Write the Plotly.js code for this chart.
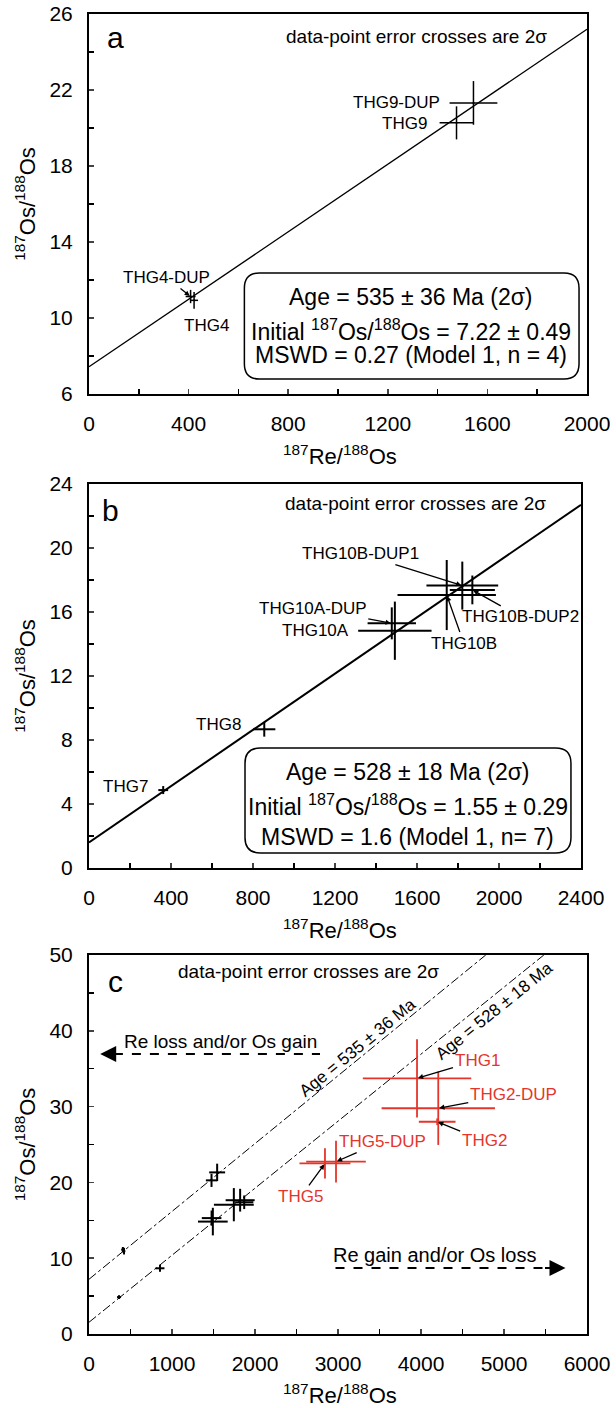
<!DOCTYPE html>
<html>
<head>
<meta charset="utf-8">
<script src="https://cdn.plot.ly/plotly-3.0.1.min.js"></script>
<style>html,body{margin:0;padding:0;background:#fff;}#chart{width:616px;height:1408px;}</style>
</head>
<body>
<div id="chart"></div>
<script>
// ---------- Panel a data ----------
const aLabels = ['THG4', 'THG4-DUP', 'THG9', 'THG9-DUP'];
const aRe = [422, 408, 1476, 1544];
const aReErr = [16, 20, 68, 96];
const aOs = [10.93, 11.13, 20.27, 21.32];
const aOsErr = [0.44, 0.35, 0.87, 1.15];
const aLineRe = [0, 2000];
const aLineOs = [7.43, 25.2];

// ---------- Panel b data ----------
const bLabels = ['THG7', 'THG8', 'THG10A', 'THG10A-DUP', 'THG10B', 'THG10B-DUP1', 'THG10B-DUP2'];
const bRe = [362, 855, 1492, 1477, 1745, 1821, 1870];
const bReErr = [24, 54, 179, 118, 240, 175, 110];
const bOs = [4.87, 8.67, 14.83, 15.29, 17.06, 17.65, 17.38];
const bOsErr = [0.25, 0.46, 1.82, 1.0, 2.19, 1.5, 0.9];
const bLineRe = [0, 2400];
const bLineOs = [1.6, 22.7];

// ---------- Panel c data (red: disturbed samples) ----------
const cLabels = ['THG1', 'THG2', 'THG2-DUP', 'THG5', 'THG5-DUP'];
const cRe = [3952, 4195, 4208, 2843, 2976];
const cReErr = [653, 221, 683, 307, 359];
const cOs = [33.73, 28.0, 29.78, 22.5, 22.73];
const cOsErr = [5.16, 0.44, 4.84, 2.0, 2.75];
const cLine535Re = [0, 4780];
const cLine535Os = [7.22, 50];
const cLine528Re = [0, 5480];
const cLine528Os = [1.55, 50];

// ---------- Text ----------
const xTitle = '<sup>187</sup>Re/<sup>188</sup>Os';
const yTitle = '<sup>187</sup>Os/<sup>188</sup>Os';
const errNote = 'data-point error crosses are 2σ';
const aBoxText = ['Age = 535 ± 36 Ma (2σ)', 'Initial <sup>187</sup>Os/<sup>188</sup>Os = 7.22 ± 0.49', 'MSWD = 0.27 (Model 1, n = 4)'];
const bBoxText = ['Age = 528 ± 18 Ma (2σ)', 'Initial <sup>187</sup>Os/<sup>188</sup>Os = 1.55 ± 0.29', 'MSWD = 1.6 (Model 1, n= 7)'];

const FONT = 'Arial, "Liberation Sans", sans-serif';
const RED = '#e5352b';

function roundedBox(x0, x1, y0, y1, rx, ry) {
  return `M${x0 + rx},${y0} L${x1 - rx},${y0} Q${x1},${y0} ${x1},${y0 + ry} L${x1},${y1 - ry} Q${x1},${y1} ${x1 - rx},${y1} L${x0 + rx},${y1} Q${x0},${y1} ${x0},${y1 - ry} L${x0},${y0 + ry} Q${x0},${y0} ${x0 + rx},${y0} Z`;
}

function crosses(x, y, ex, ey, xa, ya, color, w) {
  return {
    type: 'scatter', mode: 'markers', x: x, y: y, xaxis: xa, yaxis: ya,
    marker: {size: 2, color: color},
    error_x: {type: 'data', array: ex, visible: true, width: 0, thickness: w, color: color},
    error_y: {type: 'data', array: ey, visible: true, width: 0, thickness: w, color: color},
    showlegend: false, hoverinfo: 'x+y'
  };
}
function line(x, y, xa, ya, w, dash) {
  return {type: 'scatter', mode: 'lines', x: x, y: y, xaxis: xa, yaxis: ya,
    line: {color: 'black', width: w, dash: dash || 'solid'}, showlegend: false, hoverinfo: 'skip'};
}

const traces = [
  line(aLineRe, aLineOs, 'x', 'y', 1.3),
  crosses(aRe, aOs, aReErr, aOsErr, 'x', 'y', 'black', 1.5),
  line(bLineRe, bLineOs, 'x2', 'y2', 2),
  crosses(bRe, bOs, bReErr, bOsErr, 'x2', 'y2', 'black', 2),
  line(cLine535Re, cLine535Os, 'x3', 'y3', 1, 'dashdot'),
  line(cLine528Re, cLine528Os, 'x3', 'y3', 1, 'dashdot'),
  crosses(aRe, aOs, aReErr, aOsErr, 'x3', 'y3', 'black', 2),
  crosses(bRe, bOs, bReErr, bOsErr, 'x3', 'y3', 'black', 2),
  crosses(cRe, cOs, cReErr, cOsErr, 'x3', 'y3', RED, 1.8)
];

function xax(domain, range, dtick, minor) {
  return {domain: domain, range: range, dtick: dtick, tick0: 0, ticks: 'inside', ticklen: 5, tickwidth: 1.5,
    minor: {dtick: minor, ticks: 'inside', ticklen: 5, tickwidth: 1.5, tickcolor: 'black', showgrid: false},
    showline: true, mirror: true, linewidth: 2, linecolor: 'black', showgrid: false, zeroline: false,
    tickfont: {size: 21, color: 'black', family: FONT}, ticklabelstandoff: 10};
}
function yax(domain, range, dtick, minor, tick0) {
  return {domain: domain, range: range, dtick: dtick, tick0: tick0, ticks: 'inside', ticklen: 5, tickwidth: 1.5,
    minor: {dtick: minor, ticks: 'inside', ticklen: 5, tickwidth: 1.5, tickcolor: 'black', showgrid: false},
    showline: true, mirror: true, linewidth: 2, linecolor: 'black', showgrid: false, zeroline: false,
    tickfont: {size: 21, color: 'black', family: FONT}, ticklabelstandoff: 10,
    title: {text: yTitle, font: {size: 22, color: 'black', family: FONT}, standoff: 8}};
}

const H = 1408, W = 616;
const layout = {
  width: W, height: H, margin: {l: 0, r: 0, t: 0, b: 0},
  paper_bgcolor: 'white', plot_bgcolor: 'white',
  font: {family: FONT, color: 'black'},
  showlegend: false,
  xaxis: Object.assign(xax([89 / W, 587 / W], [0, 2000], 400, 200), {anchor: 'y'}),
  yaxis: Object.assign(yax([1 - 394 / H, 1 - 14 / H], [6, 26], 4, 2, 6), {anchor: 'x'}),
  xaxis2: Object.assign(xax([89 / W, 581 / W], [0, 2400], 400, 200), {anchor: 'y2'}),
  yaxis2: Object.assign(yax([1 - 868 / H, 1 - 484 / H], [0, 24], 4, 2, 0), {anchor: 'x2'}),
  xaxis3: Object.assign(xax([89 / W, 587 / W], [0, 6000], 1000, 500), {anchor: 'y3'}),
  yaxis3: Object.assign(yax([1 - 1334 / H, 1 - 955 / H], [0, 50], 10, 5, 0), {anchor: 'x3'}),
  shapes: [
    {type: 'path', xref: 'x', yref: 'y', path: roundedBox(624, 1968, 6.79, 12.37, 60, 0.8), line: {color: 'black', width: 1.5}},
    {type: 'path', xref: 'x2', yref: 'y2', path: roundedBox(761, 2351, 0.94, 7.5, 75, 0.95), line: {color: 'black', width: 1.5}},
    {type: 'line', xref: 'x3', yref: 'y3', x0: 300, x1: 2783, y0: 36.94, y1: 36.94, line: {color: 'black', width: 2, dash: 'dash'}},
    {type: 'line', xref: 'x3', yref: 'y3', x0: 2970, x1: 5550, y0: 8.7, y1: 8.7, line: {color: 'black', width: 2, dash: 'dash'}}
  ],
  annotations: []
};

const ann = layout.annotations;
function txt(xref, yref, x, y, text, size, opts) {
  ann.push(Object.assign({xref: xref, yref: yref, x: x, y: y, text: text, showarrow: false,
    xanchor: 'center', yanchor: 'middle',
    font: {size: size, color: 'black', family: FONT}}, opts || {}));
}
function arrowLbl(xref, yref, x, y, text, ax, ay, color) {
  ann.push({xref: xref, yref: yref, x: x, y: y, text: text, showarrow: true, ax: ax, ay: ay,
    arrowhead: 2, arrowsize: 0.8, arrowwidth: 1.3, arrowcolor: 'black', standoff: 1,
    font: {size: 17, color: color || 'black', family: FONT}});
}

// x-axis titles (placed under the tick labels, as in the original figure)
txt('paper', 'paper', 340 / W, 1 - 455 / H, xTitle, 22);
txt('paper', 'paper', 340 / W, 1 - 929 / H, xTitle, 22);
txt('paper', 'paper', 340 / W, 1 - 1394 / H, xTitle, 22);

// Panel a
txt('x domain', 'y domain', 0.054, 0.937, 'a', 30);
txt('x domain', 'y domain', 0.657, 0.942, errNote, 19);
txt('x', 'y', 1418, aOs[3], aLabels[3], 17, {xanchor: 'right'});
txt('x', 'y', 1364, aOs[2] - 0.03, aLabels[2], 17, {xanchor: 'right'});
arrowLbl('x', 'y', aRe[1], aOs[1], aLabels[1], -24, -19);
arrowLbl('x', 'y', aRe[0], aOs[0], aLabels[0], 12, 25);
txt('x', 'y', 1293, 11.13, aBoxText[0], 23);
txt('x', 'y', 1293, 9.35, aBoxText[1], 23);
txt('x', 'y', 1293, 8.05, aBoxText[2], 23);

// Panel b
txt('x2 domain', 'y2 domain', 0.043, 0.932, 'b', 30);
txt('x2 domain', 'y2 domain', 0.663, 0.95, errNote, 19);
txt('x2', 'y2', 296, 5.08, bLabels[0], 17, {xanchor: 'right'});
txt('x2', 'y2', 751, 9.0, bLabels[1], 17, {xanchor: 'right'});
txt('x2', 'y2', 1277, 14.87, bLabels[2], 17, {xanchor: 'right'});
arrowLbl('x2', 'y2', bRe[3], bOs[3], bLabels[3], -79, -15);
arrowLbl('x2', 'y2', bRe[4], bOs[4], bLabels[4], 17, 48);
arrowLbl('x2', 'y2', bRe[5], bOs[5], bLabels[5], -102, -32);
arrowLbl('x2', 'y2', bRe[6], bOs[6], bLabels[6], 48, 27);
txt('x2', 'y2', 1556, 6.02, bBoxText[0], 23);
txt('x2', 'y2', 1556, 3.94, bBoxText[1], 23);
txt('x2', 'y2', 1556, 1.96, bBoxText[2], 23);

// Panel c
txt('x3 domain', 'y3 domain', 0.053, 0.931, 'c', 30);
txt('x3 domain', 'y3 domain', 0.441, 0.956, errNote, 19);
txt('x3', 'y3', 3236, 37.86, 'Age = 535 ± 36 Ma', 17, {textangle: -39.3});
txt('x3', 'y3', 4888, 42.66, 'Age = 528 ± 18 Ma', 17, {textangle: -38.9});
txt('x3', 'y3', 1590, 38.65, 'Re loss and/or Os gain', 19);
txt('x3', 'y3', 4160, 10.42, 'Re gain and/or Os loss', 20);
ann.push({xref: 'x3', yref: 'y3', x: 135, y: 36.94, text: '', showarrow: true, ax: 22, ay: 0,
  arrowhead: 2, arrowsize: 1.6, arrowwidth: 2, arrowcolor: 'black'});
ann.push({xref: 'x3', yref: 'y3', x: 5741, y: 8.7, text: '', showarrow: true, ax: -22, ay: 0,
  arrowhead: 2, arrowsize: 1.6, arrowwidth: 2, arrowcolor: 'black'});
arrowLbl('x3', 'y3', cRe[0], cOs[0], cLabels[0], 60, -18, RED);
arrowLbl('x3', 'y3', cRe[2], cOs[2], cLabels[2], 75, -14, RED);
arrowLbl('x3', 'y3', cRe[1], cOs[1], cLabels[1], 47, 19, RED);
arrowLbl('x3', 'y3', cRe[4], cOs[4], cLabels[4], 46, -20, RED);
arrowLbl('x3', 'y3', cRe[3], cOs[3], cLabels[3], -24, 33, RED);

Plotly.newPlot('chart', traces, layout, {displayModeBar: false, staticPlot: true});
</script>
</body>
</html>
